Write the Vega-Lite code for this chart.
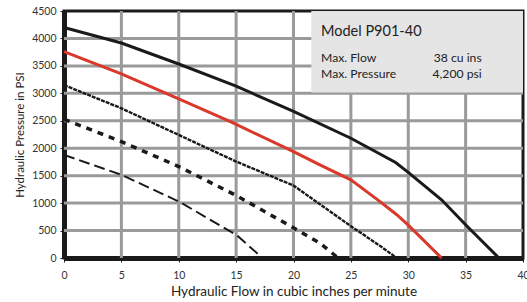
{
  "$schema": "https://vega.github.io/schema/vega-lite/v6.json",
  "width": 459,
  "height": 247,
  "autosize": "none",
  "padding": {"left": 64, "top": 11, "right": 4, "bottom": 44},
  "config": {
    "view": {"stroke": "#1a1a1a", "strokeWidth": 3},
    "font": "Lato",
    "axis": {
      "grid": false,
      "domainColor": "#1a1a1a", "domainWidth": 5,
      "tickColor": "#1a1a1a", "tickSize": 4, "tickWidth": 1,
      "labelFontSize": 10.5, "labelColor": "#333333", "labelFlush": false,
      "labelOverlap": false, "format": "d",
      "titleFontWeight": "normal", "titleColor": "#222222"
    },
    "axisX": {"tickCount": 8, "labelPadding": 8, "titleFontSize": 13.5, "titlePadding": 4},
    "axisY": {"tickCount": 9, "labelPadding": 4, "titleFontSize": 11.5, "titlePadding": 6}
  },
  "datasets": {
    "curves": [
      {"series": "A", "flow": 0, "psi": 4200},
      {"series": "A", "flow": 5, "psi": 3916},
      {"series": "A", "flow": 10, "psi": 3534},
      {"series": "A", "flow": 15, "psi": 3130},
      {"series": "A", "flow": 20, "psi": 2670},
      {"series": "A", "flow": 25, "psi": 2182},
      {"series": "A", "flow": 28.9, "psi": 1740},
      {"series": "A", "flow": 30, "psi": 1560},
      {"series": "A", "flow": 32.9, "psi": 1060},
      {"series": "A", "flow": 35, "psi": 605},
      {"series": "A", "flow": 37.9, "psi": 0},
      {"series": "B", "flow": 0, "psi": 3760},
      {"series": "B", "flow": 5, "psi": 3353},
      {"series": "B", "flow": 10, "psi": 2898},
      {"series": "B", "flow": 14.5, "psi": 2484},
      {"series": "B", "flow": 20, "psi": 1939},
      {"series": "B", "flow": 22.3, "psi": 1697},
      {"series": "B", "flow": 25, "psi": 1424},
      {"series": "B", "flow": 27.4, "psi": 1050},
      {"series": "B", "flow": 29, "psi": 788},
      {"series": "B", "flow": 30, "psi": 600},
      {"series": "B", "flow": 32.9, "psi": 0},
      {"series": "C", "flow": 0, "psi": 3150},
      {"series": "C", "flow": 5, "psi": 2727},
      {"series": "C", "flow": 10, "psi": 2242},
      {"series": "C", "flow": 15, "psi": 1757},
      {"series": "C", "flow": 20, "psi": 1320},
      {"series": "C", "flow": 25, "psi": 580},
      {"series": "C", "flow": 27.6, "psi": 212},
      {"series": "C", "flow": 29, "psi": 0},
      {"series": "D", "flow": 0, "psi": 2527},
      {"series": "D", "flow": 5, "psi": 2121},
      {"series": "D", "flow": 10, "psi": 1666},
      {"series": "D", "flow": 15, "psi": 1140},
      {"series": "D", "flow": 20, "psi": 550},
      {"series": "D", "flow": 22.3, "psi": 270},
      {"series": "D", "flow": 23.9, "psi": 0},
      {"series": "E", "flow": 0, "psi": 1878},
      {"series": "E", "flow": 5, "psi": 1515},
      {"series": "E", "flow": 10, "psi": 1030},
      {"series": "E", "flow": 15, "psi": 424},
      {"series": "E", "flow": 17.3, "psi": 0}
    ],
    "gridx": [{"v": 5}, {"v": 10}, {"v": 15}, {"v": 20}, {"v": 25}, {"v": 30}, {"v": 35}],
    "gridy": [{"v": 500}, {"v": 1000}, {"v": 1500}, {"v": 2000}, {"v": 2500}, {"v": 3000}, {"v": 3500}, {"v": 4000}],
    "box": [{"x": 21.55, "x2": 40, "y": 3015, "y2": 4500}],
    "notes": [
      {"text": "Model P901-40", "x": 22.4, "y": 4120, "kind": "title"},
      {"text": "Max. Flow", "x": 22.4, "y": 3647, "kind": "key"},
      {"text": "Max. Pressure", "x": 22.4, "y": 3345, "kind": "key"},
      {"text": "38 cu ins", "x": 36.4, "y": 3647, "kind": "value"},
      {"text": "4,200 psi", "x": 36.4, "y": 3345, "kind": "value"}
    ]
  },
  "layer": [
    {
      "data": {"name": "gridx"},
      "mark": {"type": "rule", "stroke": "#9a9a9a", "strokeWidth": 3},
      "encoding": {
        "x": {
          "field": "v", "type": "quantitative",
          "scale": {"domain": [0, 40], "nice": false, "zero": false},
          "title": "Hydraulic Flow in cubic inches per minute"
        }
      }
    },
    {
      "data": {"name": "gridy"},
      "mark": {"type": "rule", "stroke": "#9a9a9a", "strokeWidth": 3},
      "encoding": {
        "y": {
          "field": "v", "type": "quantitative",
          "scale": {"domain": [0, 4500], "nice": false, "zero": false},
          "title": "Hydraulic Pressure in PSI"
        }
      }
    },
    {
      "data": {"name": "box"},
      "mark": {"type": "rect", "fill": "#e5e5e5"},
      "encoding": {
        "x": {"field": "x", "type": "quantitative", "title": "Hydraulic Flow in cubic inches per minute"},
        "x2": {"field": "x2"},
        "y": {"field": "y", "type": "quantitative", "title": "Hydraulic Pressure in PSI"},
        "y2": {"field": "y2"}
      }
    },
    {
      "data": {"name": "curves"},
      "transform": [{"filter": "datum.series === 'E'"}],
      "mark": {"type": "line", "stroke": "#1a1a1a", "strokeWidth": 2, "strokeDash": [11, 5]},
      "encoding": {
        "x": {"field": "flow", "type": "quantitative", "title": "Hydraulic Flow in cubic inches per minute"},
        "y": {"field": "psi", "type": "quantitative", "title": "Hydraulic Pressure in PSI"}
      }
    },
    {
      "data": {"name": "curves"},
      "transform": [{"filter": "datum.series === 'D'"}],
      "mark": {"type": "line", "stroke": "#1a1a1a", "strokeWidth": 3.5, "strokeDash": [6, 6]},
      "encoding": {
        "x": {"field": "flow", "type": "quantitative", "title": "Hydraulic Flow in cubic inches per minute"},
        "y": {"field": "psi", "type": "quantitative", "title": "Hydraulic Pressure in PSI"}
      }
    },
    {
      "data": {"name": "curves"},
      "transform": [{"filter": "datum.series === 'C'"}],
      "mark": {"type": "line", "stroke": "#1a1a1a", "strokeWidth": 2.4, "strokeDash": [4, 1]},
      "encoding": {
        "x": {"field": "flow", "type": "quantitative", "title": "Hydraulic Flow in cubic inches per minute"},
        "y": {"field": "psi", "type": "quantitative", "title": "Hydraulic Pressure in PSI"}
      }
    },
    {
      "data": {"name": "curves"},
      "transform": [{"filter": "datum.series === 'B'"}],
      "mark": {"type": "line", "stroke": "#d9382b", "strokeWidth": 3},
      "encoding": {
        "x": {"field": "flow", "type": "quantitative", "title": "Hydraulic Flow in cubic inches per minute"},
        "y": {"field": "psi", "type": "quantitative", "title": "Hydraulic Pressure in PSI"}
      }
    },
    {
      "data": {"name": "curves"},
      "transform": [{"filter": "datum.series === 'A'"}],
      "mark": {"type": "line", "stroke": "#1a1a1a", "strokeWidth": 3},
      "encoding": {
        "x": {"field": "flow", "type": "quantitative", "title": "Hydraulic Flow in cubic inches per minute"},
        "y": {"field": "psi", "type": "quantitative", "title": "Hydraulic Pressure in PSI"}
      }
    },
    {
      "data": {"name": "notes"},
      "transform": [{"filter": "datum.kind === 'title'"}],
      "mark": {"type": "text", "align": "left", "baseline": "middle", "fontSize": 14.5, "fill": "#222222"},
      "encoding": {
        "x": {"field": "x", "type": "quantitative", "title": "Hydraulic Flow in cubic inches per minute"},
        "y": {"field": "y", "type": "quantitative", "title": "Hydraulic Pressure in PSI"},
        "text": {"field": "text"}
      }
    },
    {
      "data": {"name": "notes"},
      "transform": [{"filter": "datum.kind === 'key'"}],
      "mark": {"type": "text", "align": "left", "baseline": "middle", "fontSize": 12.2, "fill": "#222222"},
      "encoding": {
        "x": {"field": "x", "type": "quantitative", "title": "Hydraulic Flow in cubic inches per minute"},
        "y": {"field": "y", "type": "quantitative", "title": "Hydraulic Pressure in PSI"},
        "text": {"field": "text"}
      }
    },
    {
      "data": {"name": "notes"},
      "transform": [{"filter": "datum.kind === 'value'"}],
      "mark": {"type": "text", "align": "right", "baseline": "middle", "fontSize": 12.2, "fill": "#222222"},
      "encoding": {
        "x": {"field": "x", "type": "quantitative", "title": "Hydraulic Flow in cubic inches per minute"},
        "y": {"field": "y", "type": "quantitative", "title": "Hydraulic Pressure in PSI"},
        "text": {"field": "text"}
      }
    }
  ]
}
